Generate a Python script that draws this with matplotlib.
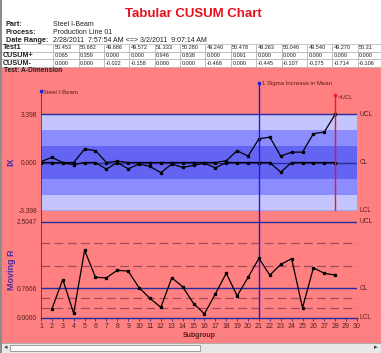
import matplotlib
matplotlib.use("Agg")
import matplotlib.pyplot as plt
from matplotlib.patches import Rectangle

plt.rcParams['font.family'] = ['Liberation Sans', 'DejaVu Sans']

# ---- data ----
subgroups = list(range(1, 29))
cusum_plus = [0.065, 0.359, 0.000, 0.000, 0.946, 0.838, 0.000, 0.091, 0.000, 0.000,
              0.000, 0.000, 0.000, 0.000, 0.000, 0.000, 0.000, 0.12, 0.83, 0.45,
              1.67, 1.79, 0.45, 0.73, 0.73, 2.03, 2.15, 3.40]
cusum_minus = [0.000, 0.000, -0.022, -0.158, 0.000, 0.000, -0.468, 0.000, -0.445, -0.107,
               -0.275, -0.714, -0.106, -0.35, -0.20, -0.05, -0.38, 0.0, 0.0, 0.0,
               0.0, 0.0, -0.68, 0.0, 0.0, 0.0, 0.0, 0.0]
mr_subgroups = list(range(2, 29))
moving_range = [0.229, 0.996, 0.114, 1.761, 1.053, 1.040, 1.238, 1.215, 0.783, 0.506,
                0.270, 1.04, 0.81, 0.37, 0.10, 0.62, 1.16, 0.57, 1.05, 1.55,
                1.11, 1.39, 1.54, 0.26, 1.30, 1.16, 1.11]

cusum_ucl, cusum_cl, cusum_lcl = 3.398, 0.0, -3.398
mr_ucl, mr_cl, mr_lcl = 2.5047, 0.7666, 0.0
mr_zones = [1.94, 1.34, 0.505, 0.26]

table_rows = ["Test1", "CUSUM+", "CUSUM-"]
table_vals = [
    ["50.453", "50.682", "49.686", "49.572", "51.333", "50.280", "49.240", "50.478",
     "49.263", "50.046", "49.540", "49.270", "50.31"],
    ["0.065", "0.359", "0.000", "0.000", "0.946", "0.838", "0.000", "0.091",
     "0.000", "0.000", "0.000", "0.000", "0.000"],
    ["0.000", "0.000", "-0.022", "-0.158", "0.000", "0.000", "-0.468", "0.000",
     "-0.445", "-0.107", "-0.275", "-0.714", "-0.106"],
]

W, H = 381, 353
PINK = "#ff8080"
NAVY = "#2a2a9a"
TXT = "#5a1e1e"


def box(x0, y0, x1, y1):
    # pixel box (top-left origin) -> figure rect
    return [x0 / W, 1 - y1 / H, (x1 - x0) / W, (y1 - y0) / H]


fig = plt.figure(figsize=(W / 100, H / 100), dpi=100)
fig.patch.set_facecolor("white")

# pink panel + scrollbar + left border
fig.add_artist(Rectangle((0, 1 - 343 / H), 1, (343 - 67) / H, transform=fig.transFigure,
                         facecolor=PINK, edgecolor="none", zorder=0))
fig.add_artist(Rectangle((0, 0), 1, 10 / H, transform=fig.transFigure,
                         facecolor="#e8e8e8", edgecolor="#a0a0a0", lw=0.6, zorder=0))
fig.add_artist(Rectangle((10 / W, 2.5 / H), 190 / W, 6 / H, transform=fig.transFigure,
                         facecolor="#fafafa", edgecolor="#909090", lw=0.6, zorder=1))
fig.add_artist(Rectangle((0, 0), 2 / W, 1, transform=fig.transFigure,
                         facecolor="#8c8c8c", edgecolor="none", zorder=5))
fig.text(4 / W, 1 - 348 / H, "\u25c2", fontsize=5, color="#404040", va="center")
fig.text(374 / W, 1 - 348 / H, "\u25b8", fontsize=5, color="#404040", va="center")

# header
fig.text(193 / W, 1 - 14 / H, "Tabular CUSUM Chart", color="#e8101c", fontsize=9.5,
         fontweight="bold", ha="center", va="center")
for y, lab, val in [(25, "Part:", "Steel I-Beam"),
                    (32.5, "Process:", "Production Line 01"),
                    (40, "Date Range:", "2/28/2011  7:57:54 AM <=> 3/2/2011  9:07:14 AM")]:
    fig.text(6 / W, 1 - y / H, lab, fontsize=5.2, fontweight="bold", va="center", color="#202020")
    fig.text(53 / W, 1 - y / H, val, fontsize=5.0, va="center", color="#202020")

# table
axt = fig.add_axes(box(0, 44, 383, 67))
axt.axis("off")
cells = [[r] + v for r, v in zip(table_rows, table_vals)]
tbl = axt.table(cellText=cells, colWidths=[53] + [25.3] * 13, cellLoc="left",
                bbox=[0, 0, 1, 1])
tbl.auto_set_font_size(False)
for (r, c), cell in tbl.get_celld().items():
    cell.set_edgecolor("#b0b0b0")
    cell.set_linewidth(0.5)
    cell.PAD = 0.06
    t = cell.get_text()
    if c == 0:
        t.set_fontsize(5.2)
        t.set_fontweight("bold")
    else:
        t.set_fontsize(4.0)
    t.set_color("#202020")

fig.text(4 / W, 1 - 71 / H, "Test: A-Dimension", fontsize=4.8, fontweight="bold",
         va="center", color="#202020")

# ---- CUSUM chart ----
top_px = 82
ax1 = fig.add_axes(box(41, top_px, 357, 210.7))
ax1.set_facecolor("none")
ppu = (210.7 - 114.3) / (cusum_ucl - cusum_lcl)
ytop = cusum_ucl + (114.3 - top_px) / ppu
ax1.set_xlim(1, 30)
ax1.set_ylim(cusum_lcl, ytop)
sig = (cusum_ucl - cusum_cl) / 3
light, mid, dark = "#c4c4ff", "#8c8cff", "#6464f2"
ax1.axhspan(cusum_lcl, -2 * sig, color=light, lw=0)
ax1.axhspan(-2 * sig, -sig, color=mid, lw=0)
ax1.axhspan(-sig, sig, color=dark, lw=0)
ax1.axhspan(sig, 2 * sig, color=mid, lw=0)
ax1.axhspan(2 * sig, cusum_ucl, color=light, lw=0)
for v in (cusum_ucl, cusum_cl, cusum_lcl):
    ax1.axhline(v, color=NAVY, lw=1.0)
for v, lab in [(cusum_ucl, "UCL"), (cusum_cl, "CL"), (cusum_lcl, "LCL")]:
    ax1.text(30.2, v, lab, fontsize=4.8, color=TXT, va="center", clip_on=False)
ax1.plot(subgroups, cusum_plus, color="black", lw=0.9, marker="s", ms=1.4)
ax1.plot(subgroups, cusum_minus, color="black", lw=0.9, marker="s", ms=1.4)
ax1.set_yticks([cusum_lcl, cusum_cl, cusum_ucl])
ax1.set_yticklabels(["-3.398", "0.000", "3.398"])
ax1.set_xticks([])
ax1.tick_params(axis="y", length=0, labelsize=4.8, labelcolor=TXT, pad=3)
for s in ax1.spines.values():
    s.set_visible(False)

span = 210.7 - top_px
# event lines
ax1.axvline(1, ymax=(210.7 - 91) / span, color="#1c1ce6", lw=1.1)
ax1.axvline(21, ymax=(210.7 - 83) / span, color="#1c1ce6", lw=1.0)
ax1.axvline(28, ymax=(210.7 - 95) / span, color="#e81c1c", lw=1.0)
y91 = cusum_lcl + (210.7 - 91) / ppu
y83 = cusum_lcl + (210.7 - 83) / ppu
y95 = cusum_lcl + (210.7 - 95) / ppu
ax1.plot([1], [y91], marker="s", ms=1.6, color="#1c1ce6", clip_on=False)
ax1.plot([21], [y83], marker="s", ms=1.6, color="#1c1ce6", clip_on=False)
ax1.plot([28], [y95], marker="s", ms=1.6, color="#e81c1c", clip_on=False)
ax1.text(1.2, y91 - 0.1, "Steel I-Beam", fontsize=4.3, color=TXT, va="center")
ax1.text(21.25, y83, "1 Sigma Increase in Mean", fontsize=4.3, color=TXT, va="center",
         clip_on=False)
ax1.text(28.25, y95 - 0.2, ">UCL", fontsize=4.3, color=TXT, va="center")

fig.text(11 / W, 1 - 162 / H, "IX", rotation=90, fontsize=6.5, fontweight="bold",
         color="#4a2aa8", ha="center", va="center")

# ---- Moving range chart ----
ax2 = fig.add_axes(box(41, 210.7, 357, 317.7))
ax2.set_facecolor("none")
ppu2 = (317.7 - 221.7) / (mr_ucl - mr_lcl)
ax2.set_xlim(1, 30)
ax2.set_ylim(mr_lcl, mr_ucl + (221.7 - 210.7) / ppu2)
for v in mr_zones:
    ax2.axhline(v, color="#a04a60", lw=0.9, dashes=(7, 3.5))
for v in (mr_ucl, mr_cl):
    ax2.axhline(v, color=NAVY, lw=1.0)
for v, lab in [(mr_ucl, "UCL"), (mr_cl, "CL"), (mr_lcl, "LCL")]:
    ax2.text(30.2, v, lab, fontsize=4.8, color=TXT, va="center", clip_on=False)
ax2.axvline(30, ymax=mr_ucl / ax2.get_ylim()[1], color="#7a6a8a", lw=0.6)
ax2.axvline(1, color="#1c1ce6", lw=1.1)
ax2.axvline(21, color="#1c1ce6", lw=1.0)
ax2.plot(mr_subgroups, moving_range, color="black", lw=0.9, marker="s", ms=1.4)
ax2.set_yticks([mr_lcl, mr_cl, mr_ucl])
ax2.set_yticklabels(["0.0000", "0.7666", "2.5047"])
ax2.set_xticks(range(1, 31))
ax2.tick_params(axis="y", length=0, labelsize=4.8, labelcolor=TXT, pad=3)
ax2.tick_params(axis="x", length=2, width=0.6, color=NAVY, labelsize=5.0,
                labelcolor=TXT, pad=1.5)
for k in ("top", "left", "right"):
    ax2.spines[k].set_visible(False)
ax2.spines["bottom"].set_color(NAVY)
ax2.spines["bottom"].set_linewidth(1.0)
ax2.set_xlabel("Subgroup", fontsize=5, fontweight="bold", color=TXT, labelpad=1.5)

fig.text(11 / W, 1 - 270 / H, "Moving R", rotation=90, fontsize=6.5, fontweight="bold",
         color="#4a2aa8", ha="center", va="center")

plt.savefig("out.png", dpi=100)
plt.close()
